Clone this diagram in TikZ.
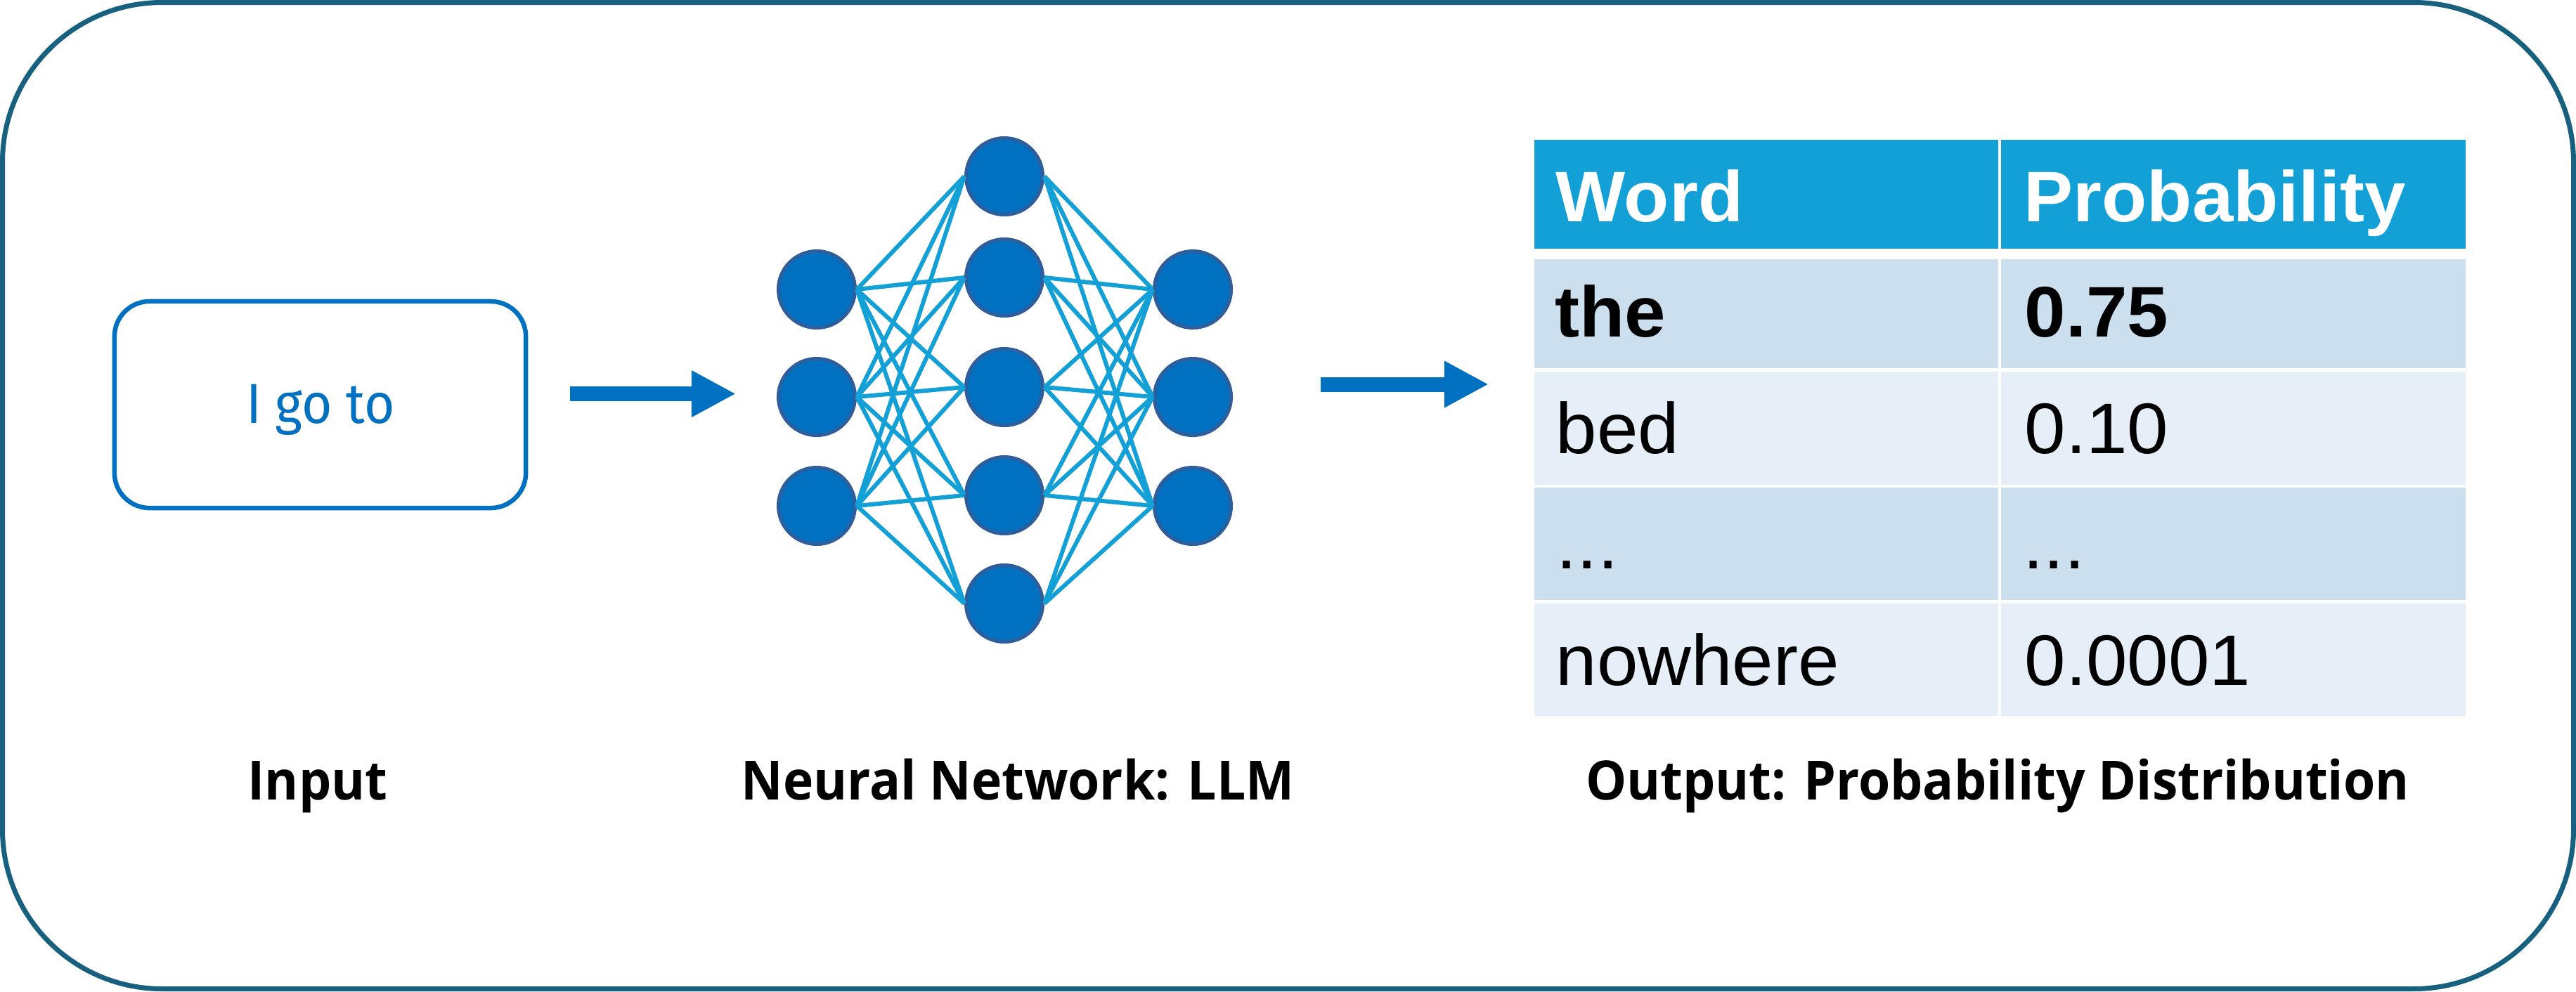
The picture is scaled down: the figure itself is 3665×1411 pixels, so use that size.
\documentclass[tikz,border=0pt]{standalone}
\usepackage{fontspec}
\setmainfont{Liberation Sans}[FakeStretch=1.03]
\newfontfamily\inputfam{Fira Sans}[FakeStretch=0.93]
\newfontfamily\labelfam{Open Sans}[FakeStretch=0.95]
\usetikzlibrary{arrows.meta}
\definecolor{frame}{HTML}{17607F}
\definecolor{accent}{HTML}{0070C0}
\definecolor{nborder}{HTML}{2E5E9C}
\definecolor{edgec}{HTML}{12A0D7}
\definecolor{hdr}{HTML}{12A0D7}
\definecolor{rowA}{HTML}{CCDFEE}
\definecolor{rowB}{HTML}{E6EEF7}
\newcommand\mytabfont{\fontsize{29pt}{35pt}\selectfont}
\newcommand\myinfont{\inputfam\fontsize{22.8pt}{27pt}\selectfont}
\newcommand\mycapfont{\labelfam\bfseries\fontsize{21.9pt}{26pt}\selectfont}
\begin{document}
\begin{tikzpicture}[x=0.01cm,y=-0.01cm,
  frameline/.style={draw=frame,line width=0.07cm,rounded corners=2.27cm},
  inbox/.style={draw=accent,line width=0.065cm,rounded corners=0.5cm,minimum width=5.85cm,minimum height=2.94cm,inner sep=0},
  bigarrow/.style={draw=accent,line width=0.21cm,-{Triangle[length=0.63cm,width=0.62cm]}},
  neuron/.style={circle,fill=accent,draw=nborder,line width=0.05cm,minimum size=1.09cm,inner sep=0},
  link/.style={draw=edgec,line width=0.06cm},
  cellbox/.style={rectangle,inner sep=0,outer sep=0,anchor=north west},
  celltext/.style={anchor=base west,inner sep=0,font=\mytabfont},
  caption/.style={anchor=base,inner sep=0,font=\mycapfont}
]
\useasboundingbox (0,0) rectangle (3665,1411);
\draw[frameline] (3.5,3.5) rectangle (3661.5,1407.5);

% input
\node[inbox] (inbox) at (455.5,576) {};
\node[anchor=base,inner sep=0,text=accent,font=\myinfont] (intext) at (456,602) {I go to};

% arrows
\coordinate (a1s) at (811,560.5);
\coordinate (a1e) at (1047,560.5);
\coordinate (a2s) at (1879,547);
\coordinate (a2e) at (2118,547);
\draw[bigarrow] (a1s) -- (a1e);
\draw[bigarrow] (a2s) -- (a2e);

% network
\node[neuron] (L1) at (1162,412) {};
\node[neuron] (L2) at (1162,565) {};
\node[neuron] (L3) at (1162,720) {};
\node[neuron] (M1) at (1429,251) {};
\node[neuron] (M2) at (1429,395) {};
\node[neuron] (M3) at (1429,551) {};
\node[neuron] (M4) at (1429,705) {};
\node[neuron] (M5) at (1429,859) {};
\node[neuron] (R1) at (1697,412) {};
\node[neuron] (R2) at (1697,565) {};
\node[neuron] (R3) at (1697,720) {};
\foreach \i in {1,2,3}{
  \foreach \j in {1,...,5}{
    \draw[link] (L\i.east) -- (M\j.west);
    \draw[link] (M\j.east) -- (R\i.west);
  }
}

% table
\node[cellbox,fill=hdr,minimum width=6.60cm,minimum height=1.55cm] (h1) at (2183,199) {};
\node[cellbox,fill=hdr,minimum width=6.61cm,minimum height=1.55cm] (h2) at (2847,199) {};
\node[cellbox,fill=rowA,minimum width=6.60cm,minimum height=1.55cm] (c11) at (2183,369) {};
\node[cellbox,fill=rowA,minimum width=6.61cm,minimum height=1.55cm] (c12) at (2847,369) {};
\node[cellbox,fill=rowB,minimum width=6.60cm,minimum height=1.605cm] (c21) at (2183,529) {};
\node[cellbox,fill=rowB,minimum width=6.61cm,minimum height=1.605cm] (c22) at (2847,529) {};
\node[cellbox,fill=rowA,minimum width=6.60cm,minimum height=1.60cm] (c31) at (2183,694) {};
\node[cellbox,fill=rowA,minimum width=6.61cm,minimum height=1.60cm] (c32) at (2847,694) {};
\node[cellbox,fill=rowB,minimum width=6.60cm,minimum height=1.60cm] (c41) at (2183,859) {};
\node[cellbox,fill=rowB,minimum width=6.61cm,minimum height=1.60cm] (c42) at (2847,859) {};

\node[celltext,text=white,font=\mytabfont\bfseries] (t01) at (2213,315) {Word};
\node[celltext,text=white,font=\mytabfont\bfseries] (t02) at (2879,315) {Probability};
\node[celltext,font=\mytabfont\bfseries] (t11) at (2212,479) {the};
\node[celltext,font=\mytabfont\bfseries] (t12) at (2880,479) {0.75};
\node[celltext] (t21) at (2213,645) {bed};
\node[celltext] (t22) at (2880,645) {0.10};
\node[celltext] (t31) at (2214,809) {...};
\node[celltext] (t32) at (2878,809) {...};
\node[celltext] (t41) at (2213,975) {nowhere};
\node[celltext] (t42) at (2880,975) {0.0001};

% captions
\node[caption] (cap1) at (452,1138) {Input};
\node[caption] (cap2) at (1448,1138) {Neural Network: LLM};
\node[caption] (cap3) at (2842,1138) {Output: Probability Distribution};
\end{tikzpicture}
\end{document}
